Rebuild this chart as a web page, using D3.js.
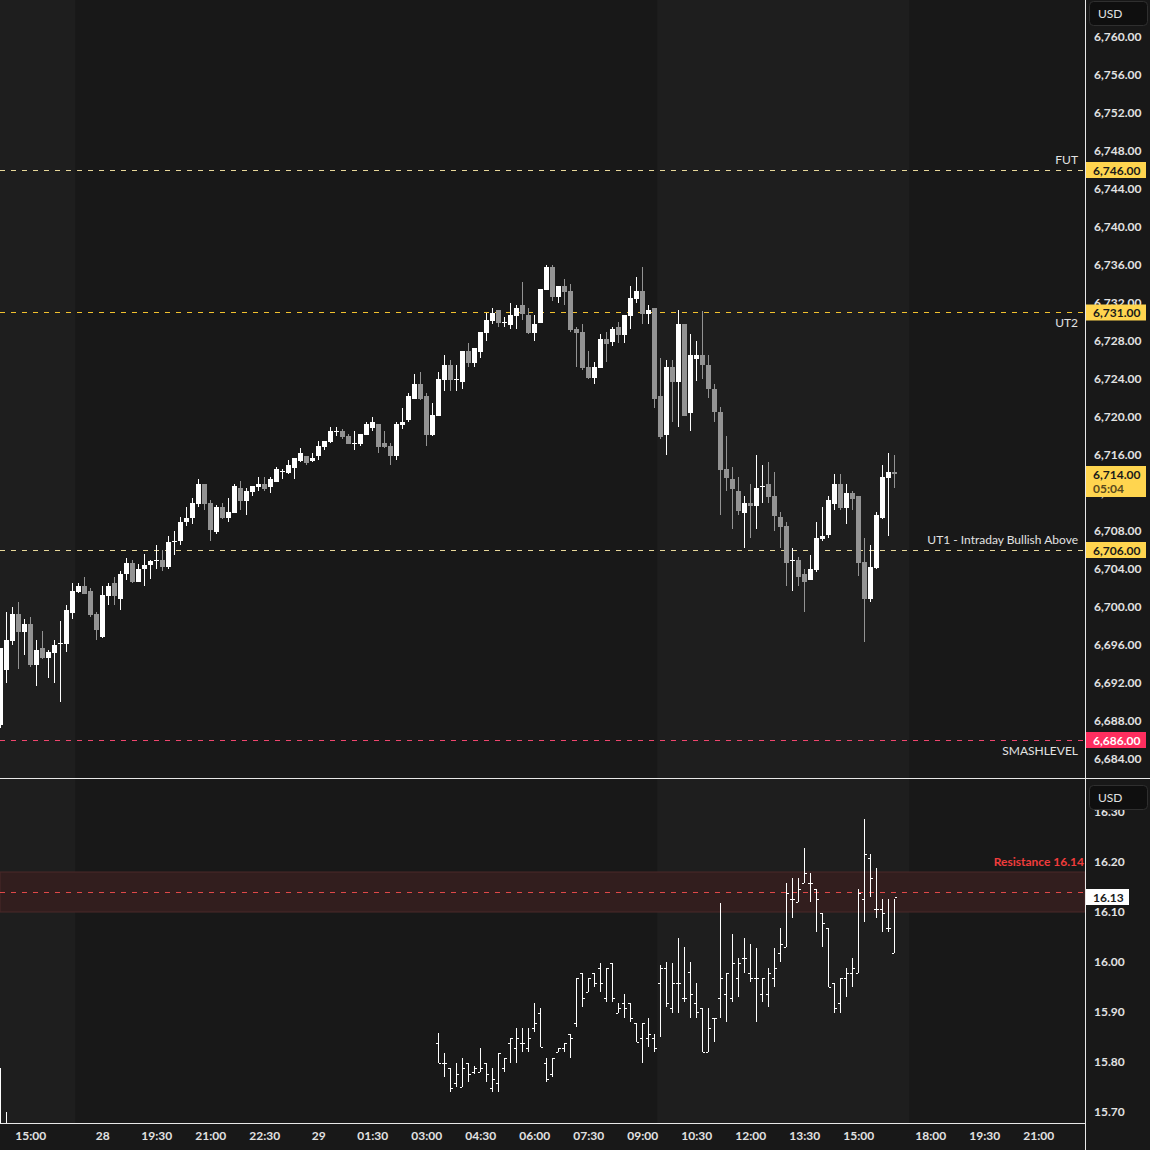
<!DOCTYPE html>
<html><head><meta charset="utf-8">
<script src="https://cdnjs.cloudflare.com/ajax/libs/d3/7.8.5/d3.min.js"></script>
<style>
html,body{margin:0;padding:0;background:#181818;}
svg{display:block;}
text{font-family:Lato,"Liberation Sans",Arial,sans-serif;}
</style>
</head><body>
<svg id="chart" width="1150" height="1150"></svg>
<script>
// ---------- DATA ----------
// ES 10-minute candles, bar index 0 = 14:10 (27th)
const esOpen = [6687.58,6693.37,6696.42,6699.26,6697.37,6698.21,6693.89,6695.68,6694.63,6695.16,
6696.16,6696.11,6699.37,6701.58,6702.21,6701.68,6699.26,6696.84,6701.16,6702.53,
6700.84,6703.5,6704.6,6702.6,6704.0,6704.4,6704.8,6705.0,6704.2,6706.8,
6707.0,6709.0,6709.40,6710.88,6712.95,6710.95,6707.89,6710.53,6709.37,6709.93,
6712.53,6711.16,6712.11,6712.63,6712.95,6712.63,6713.16,6714.32,6714.11,6714.63,
6715.37,6715.93,6715.37,6715.89,6716.84,6717.37,6718.53,6718.53,6718.00,6717.26,
6717.16,6718.11,6718.84,6719.26,6717.26,6716.95,6715.89,6719.16,6719.68,6721.89,
6723.47,6722.21,6718.11,6720.11,6723.89,6725.47,6724.0,6723.68,6726.95,6725.68,
6726.84,6728.84,6730.11,6731.26,6730.0,6729.68,6730.63,6731.79,6730.74,6728.84,
6729.89,6733.37,6735.79,6732.63,6733.79,6733.26,6729.26,6728.95,6725.26,6724.11,
6725.16,6728.21,6727.89,6729.47,6728.63,6730.63,6732.42,6733.26,6730.84,6731.47,
6722.21,6718.11,6725.26,6723.68,6729.79,6720.42,6726.11,6726.5,6725.5,6723.0,
6720.5,6714.53,6713.47,6712.21,6709.89,6710.95,6710.63,6712.70,6712.95,6711.68,
6709.47,6708.53,6704.95,6704.95,6703.47,6702.84,6703.89,6707.16,6707.58,6710.84,
6712.95,6710.42,6712.0,6711.68,6704.74,6700.84,6704.11,6709.37,6713.58,6714.21];
const esHigh = [6695.65,6699.47,6700.0,6700.53,6698.74,6698.95,6696.53,6697.47,6695.47,6696.53,
6698.53,6700.21,6702.53,6702.53,6703.2,6702.0,6699.47,6702.21,6702.53,6703.2,
6703.8,6705.2,6705.0,6704.5,6705.6,6705.0,6706.5,6706.0,6707.5,6708.0,
6709.5,6710.5,6711.44,6713.47,6712.95,6711.26,6710.70,6710.95,6711.47,6712.95,
6713.26,6712.49,6712.74,6713.68,6713.68,6713.68,6714.74,6714.53,6715.47,6715.68,
6716.74,6715.93,6716.21,6717.47,6717.47,6718.95,6718.95,6718.74,6718.21,6718.53,
6718.21,6719.47,6720.00,6719.26,6718.53,6717.26,6719.47,6720.95,6722.53,6724.53,
6724.74,6722.53,6721.47,6724.74,6726.53,6726.00,6725.47,6726.95,6727.79,6727.26,
6728.95,6730.95,6731.47,6731.26,6730.53,6732.0,6731.79,6734.21,6731.47,6730.74,
6733.47,6736.0,6736.0,6733.79,6734.53,6734.0,6729.47,6729.79,6726.95,6725.79,
6728.74,6728.95,6729.47,6730.0,6730.74,6733.79,6734.74,6735.79,6731.79,6731.47,
6726.21,6726.0,6726.0,6731.26,6729.79,6728.74,6728.0,6731.2,6726.5,6723.5,
6721.0,6718.0,6714.74,6713.68,6711.68,6712.95,6716.0,6714.95,6715.26,6714.21,
6710.0,6708.95,6706.21,6705.26,6704.0,6705.47,6708.95,6710.53,6711.68,6714.0,
6714.0,6712.95,6712.21,6711.68,6707.26,6706.53,6710.0,6714.95,6716.21,6716.0];
const esLow = [6687.26,6692.0,6696.0,6693.47,6694.95,6693.68,6691.68,6694.53,6692.53,6692.0,
6690.0,6695.26,6698.74,6701.47,6701.37,6698.95,6696.53,6696.74,6700.21,6700.21,
6699.68,6702.8,6702.5,6702.6,6702.2,6703.0,6704.0,6703.8,6704.0,6705.5,
6706.5,6708.5,6708.74,6710.56,6710.21,6706.98,6707.72,6709.26,6708.95,6709.93,
6710.21,6709.68,6711.68,6712.21,6712.25,6712.00,6713.16,6713.47,6714.00,6713.47,
6715.26,6714.95,6715.26,6715.47,6716.53,6717.26,6718.00,6717.68,6717.16,6716.53,
6716.95,6718.11,6718.53,6716.21,6716.74,6714.95,6715.47,6718.74,6719.47,6721.89,
6721.79,6716.95,6718.00,6720.11,6722.74,6722.74,6722.74,6722.95,6725.26,6725.26,
6726.21,6728.00,6729.79,6729.47,6729.47,6729.26,6729.26,6730.21,6728.74,6728.00,
6729.89,6733.37,6732.21,6732.0,6731.79,6728.95,6725.26,6724.95,6724.0,6723.47,
6725.16,6725.79,6727.47,6727.79,6727.79,6729.26,6732.0,6729.79,6729.79,6720.95,
6717.68,6716.0,6719.47,6718.95,6720.11,6718.53,6723.79,6724.0,6722.0,6719.5,
6709.68,6712.21,6708.21,6709.68,6706.21,6707.26,6708.21,6710.95,6710.95,6708.0,
6706.21,6702.21,6701.68,6702.21,6699.47,6702.84,6703.68,6706.95,6707.26,6710.21,
6710.21,6708.74,6710.21,6703.26,6696.3,6700.53,6704.0,6709.26,6707.47,6712.53];
const esClose = [6695.65,6696.53,6699.26,6697.37,6698.21,6693.89,6695.47,6694.63,6695.26,6696.0,
6696.16,6699.68,6701.68,6702.21,6701.37,6699.16,6697.58,6701.26,6702.21,6701.16,
6703.5,6704.6,6702.6,6704.0,6704.4,6704.8,6705.0,6704.2,6706.8,6707.0,
6709.0,6709.4,6710.91,6712.95,6710.88,6708.14,6710.53,6709.37,6710.00,6712.74,
6711.16,6712.21,6712.74,6712.95,6712.42,6713.47,6714.53,6714.32,6714.95,6715.68,
6716.21,6715.16,6715.68,6716.95,6717.47,6718.53,6718.53,6717.89,6717.16,6717.26,
6718.21,6719.26,6719.47,6716.84,6716.84,6715.89,6719.26,6719.47,6722.21,6723.47,
6721.89,6718.11,6720.21,6724.00,6725.47,6723.89,6724.0,6726.95,6725.68,6727.26,
6728.95,6730.21,6730.95,6729.89,6730.0,6730.74,6731.47,6730.84,6728.84,6729.79,
6733.47,6735.79,6732.63,6733.79,6733.16,6729.16,6728.84,6725.16,6724.11,6725.26,
6728.21,6727.68,6729.26,6728.63,6730.74,6732.53,6733.26,6730.84,6731.26,6721.89,
6717.89,6725.26,6723.68,6729.79,6720.11,6726.53,6726.53,6725.5,6723.0,6720.5,
6714.42,6713.58,6712.42,6710.11,6710.95,6710.63,6712.53,6712.70,6711.58,6709.58,
6708.42,6704.63,6704.95,6703.16,6702.63,6704.0,6707.26,6707.47,6711.26,6712.95,
6710.42,6712.0,6711.37,6704.63,6700.84,6704.21,6709.68,6713.68,6714.21,6714.0];

// VIX 10-minute OHLC bars (bar index on same time axis)
const vixIndex = [0,1].concat(d3.range(73,150));
const vixOpen = [15.60,15.60,
15.837,15.797,15.787,15.757,15.749,15.797,15.779,15.779,15.797,15.747,
15.757,15.787,15.837,15.827,15.837,15.827,15.867,15.897,15.797,15.777,
15.819,15.827,15.857,15.877,15.977,15.939,15.977,15.987,15.927,15.997,
15.899,15.917,15.917,15.877,15.847,15.847,15.847,15.957,15.987,15.907,
15.957,15.927,15.980,15.917,15.907,15.819,15.887,15.927,15.937,15.927,
15.967,16.007,15.977,15.967,15.937,15.937,15.967,16.017,16.029,16.127,
16.119,16.159,16.157,16.147,16.097,16.067,15.957,15.917,15.967,15.977,
15.979,16.127,16.207,16.107,16.107,16.067,16.019];
const vixHigh = [15.788,15.70,
15.858,15.817,15.787,15.797,15.807,15.797,15.791,15.827,15.797,15.787,
15.817,15.807,15.847,15.867,15.867,15.867,15.917,15.907,15.807,15.807,
15.827,15.837,15.857,15.967,15.977,15.967,15.977,15.997,15.987,15.997,
15.917,15.937,15.917,15.877,15.877,15.887,15.857,15.994,16.000,15.997,
16.048,16.030,16.000,15.957,15.907,15.907,15.887,16.117,15.977,16.057,
16.007,16.047,16.037,16.027,15.967,15.987,16.027,16.067,16.157,16.167,
16.167,16.227,16.177,16.147,16.097,16.067,15.957,15.967,15.987,16.007,
16.147,16.287,16.217,16.187,16.127,16.127,16.127];
const vixLow = [15.55,15.55,
15.797,15.769,15.739,15.749,15.749,15.759,15.777,15.779,15.759,15.739,
15.739,15.779,15.799,15.799,15.819,15.819,15.859,15.829,15.759,15.769,
15.819,15.819,15.809,15.869,15.909,15.939,15.949,15.939,15.919,15.919,
15.899,15.889,15.879,15.840,15.799,15.829,15.819,15.849,15.909,15.899,
15.899,15.919,15.889,15.889,15.819,15.819,15.839,15.889,15.879,15.919,
15.929,15.979,15.959,15.879,15.919,15.909,15.949,15.999,16.029,16.089,
16.119,16.159,16.119,16.059,16.029,15.949,15.899,15.899,15.929,15.949,
15.979,16.079,16.129,16.089,16.059,16.059,16.019];
const vixClose = [15.60,15.60,
15.799,15.797,15.747,15.777,15.787,15.777,15.787,15.787,15.777,15.767,
15.817,15.807,15.847,15.847,15.837,15.847,15.877,15.829,15.767,15.807,
15.827,15.837,15.847,15.967,15.927,15.967,15.957,15.957,15.987,15.927,
15.907,15.907,15.887,15.840,15.877,15.857,15.827,15.987,15.917,15.957,
15.957,15.927,15.937,15.900,15.819,15.867,15.887,15.967,15.977,15.997,
15.997,16.007,15.967,15.967,15.967,15.977,15.987,16.037,16.137,16.127,
16.147,16.177,16.157,16.127,16.077,15.949,15.907,15.967,15.977,15.987,
16.137,16.217,16.167,16.107,16.097,16.067,16.13];

// axis tick labels
const priceTicks = [6684,6688,6692,6696,6700,6704,6708,6712,6716,6720,6724,6728,6732,6736,6740,6744,6748,6752,6756,6760];
const vixTicks = [15.70,15.80,15.90,16.00,16.10,16.20,16.30];
const timeTickIndex = [5,17,26,35,44,53,62,71,80,89,98,107,116,125,134,143,155,164,173];
const timeTickLabel = ["15:00","28","19:30","21:00","22:30","29","01:30","03:00","04:30","06:00","07:30","09:00","10:30","12:00","13:30","15:00","18:00","19:30","21:00"];

// horizontal levels
const levelNames = ["FUT","UT2","UT1 - Intraday Bullish Above","SMASHLEVEL"];
const levelValues = [6746,6731,6706,6686];
const levelKind = ["yellow","yellow","yellow","red"];
const levelLabelAbove = [true,false,true,false];
const lastPrice = 6714.00, countdown = "05:04";
const resistanceLabel = "Resistance 16.14", resistanceValue = 16.14, resistanceHalfWidth = 0.04;
const lastVix = 16.13;
// regular-session shading (bar index ranges)
const sessionRanges = [[-3,12],[110,151]];

// ---------- LAYOUT ----------
const W = 1150, H = 1150, plotR = 1085;
const mainTop = 0, mainBot = 778, subTop = 779, subBot = 1123;
const BG = "#181818", BG_SESSION = "#1e1e1e";
const UP = "#ffffff", DOWN = "#939393";
const YEL = "#ffd54f", RED = "#ff2e5f";
const TXT = "#e2e2e2";

const svg = d3.select("#chart");
const x = d3.scaleLinear().domain([0, 180]).range([0.3, 1080.3]);
const yMain = d3.scaleLinear().domain([6684, 6760]).range([759, 37]);
const ySub = d3.scaleLinear().domain([15.70, 16.20]).range([1112, 862]);

svg.append("rect").attr("width", W).attr("height", H).attr("fill", BG);

const defs = svg.append("defs");
defs.append("clipPath").attr("id","clipMain").append("rect").attr("x",0).attr("y",mainTop).attr("width",plotR).attr("height",mainBot-mainTop);
defs.append("clipPath").attr("id","clipSub").append("rect").attr("x",0).attr("y",subTop).attr("width",plotR).attr("height",subBot-subTop);

// session shading
[["clipMain",mainTop,mainBot],["clipSub",subTop,subBot]].forEach(([clip,t,b]) => {
  svg.append("g").attr("clip-path",`url(#${clip})`).selectAll("rect").data(sessionRanges).join("rect")
    .attr("x", d => x(d[0]) - 3).attr("width", d => x(d[1]) - x(d[0]) + 6)
    .attr("y", t).attr("height", b - t).attr("fill", BG_SESSION);
});

// ---------- MAIN PANE ----------
const gMain = svg.append("g").attr("clip-path","url(#clipMain)");

// level lines
levelValues.forEach((v,i) => {
  const yy = Math.floor(yMain(v)) + 0.5;
  gMain.append("line").attr("x1",0).attr("x2",plotR).attr("y1",yy).attr("y2",yy)
    .attr("stroke", levelKind[i]==="red" ? "#f0466e" : (i===1 ? "#f2c12e" : "#e8d89a"))
    .attr("stroke-width",1).attr("stroke-dasharray","5,6");
  gMain.append("text").attr("x",1078).attr("y", yy + (levelLabelAbove[i] ? -11 : 10))
    .attr("text-anchor","end").attr("dominant-baseline","central")
    .attr("font-size",12).attr("fill",TXT).text(levelNames[i]);
});

const candles = esOpen.map((o,i) => ({i, o, h: esHigh[i], l: esLow[i], c: esClose[i]}));
const cg = gMain.selectAll("g.candle").data(candles).join("g").attr("class","candle")
  .attr("fill", d => d.c >= d.o ? UP : DOWN);
cg.append("rect")
  .attr("x", d => Math.round(x(d.i)))
  .attr("width", 1)
  .attr("y", d => Math.round(yMain(d.h)))
  .attr("height", d => Math.max(1, Math.round(yMain(d.l)) - Math.round(yMain(d.h))));
cg.append("rect")
  .attr("x", d => Math.round(x(d.i)) - 2)
  .attr("width", 5)
  .attr("y", d => Math.round(yMain(Math.max(d.o,d.c))))
  .attr("height", d => Math.max(1, Math.round(yMain(Math.min(d.o,d.c))) - Math.round(yMain(Math.max(d.o,d.c)))));

// ---------- SUB PANE ----------
const gSub = svg.append("g").attr("clip-path","url(#clipSub)");
const rTop = ySub(resistanceValue + resistanceHalfWidth), rBot = ySub(resistanceValue - resistanceHalfWidth);
gSub.append("rect").attr("x",0).attr("width",plotR).attr("y",rTop).attr("height",rBot-rTop)
  .attr("fill","#321e1e").attr("stroke","#4a2828").attr("stroke-width",1);
gSub.append("line").attr("x1",0).attr("x2",plotR)
  .attr("y1",Math.round(ySub(resistanceValue))+0.5).attr("y2",Math.round(ySub(resistanceValue))+0.5)
  .attr("stroke","#e04848").attr("stroke-dasharray","5,6");
gSub.append("text").attr("x",1084).attr("y",861).attr("text-anchor","end").attr("dominant-baseline","central")
  .attr("font-size",12).attr("font-weight","bold").attr("fill","#f03c3c").text(resistanceLabel);

const bars = vixIndex.map((k,j) => ({k, o: vixOpen[j], h: vixHigh[j], l: vixLow[j], c: vixClose[j]}));
const bg = gSub.selectAll("g.bar").data(bars).join("g").attr("fill","#ffffff");
bg.append("rect").attr("x", d => Math.round(x(d.k))).attr("width",1)
  .attr("y", d => Math.round(ySub(d.h))).attr("height", d => Math.max(1, Math.round(ySub(d.l)) - Math.round(ySub(d.h))));
bg.append("rect").attr("x", d => Math.round(x(d.k)) - 2).attr("width",2)
  .attr("y", d => Math.round(ySub(d.o))).attr("height",1);
bg.append("rect").attr("x", d => Math.round(x(d.k)) + 1).attr("width",2)
  .attr("y", d => Math.round(ySub(d.c))).attr("height",1);

// ---------- FRAME LINES ----------
svg.append("line").attr("x1",plotR+0.5).attr("x2",plotR+0.5).attr("y1",0).attr("y2",H).attr("stroke","#e8e8e8");
svg.append("line").attr("x1",0).attr("x2",W).attr("y1",mainBot+0.5).attr("y2",mainBot+0.5).attr("stroke","#e8e8e8");
svg.append("line").attr("x1",0).attr("x2",plotR).attr("y1",subBot+0.5).attr("y2",subBot+0.5).attr("stroke","#e8e8e8");

// ---------- AXES ----------
const axMain = svg.append("g").attr("transform",`translate(${plotR+1},0)`)
  .call(d3.axisRight(yMain).tickValues(priceTicks).tickFormat(d3.format(",.2f")).tickSize(0).tickPadding(8));
const axSub = svg.append("g").attr("transform",`translate(${plotR+1},0)`)
  .call(d3.axisRight(ySub).tickValues(vixTicks).tickFormat(d3.format(".2f")).tickSize(0).tickPadding(8));
const axTime = svg.append("g").attr("transform",`translate(0,${subBot+1})`)
  .call(d3.axisBottom(x).tickValues(timeTickIndex).tickFormat((d,i) => timeTickLabel[i]).tickSize(0).tickPadding(7));
[axMain, axSub, axTime].forEach(a => {
  a.select(".domain").remove();
  a.selectAll("text").attr("fill",TXT).attr("font-size",12).attr("font-family","Lato, 'Liberation Sans', Arial, sans-serif").attr("font-weight","bold");
});

// ---------- PRICE LABEL BOXES ----------
function priceBox(v, scale, bgc, fg, fmt, w, extra) {
  const yy = scale(v);
  const h = extra ? 31 : 16;
  const g = svg.append("g");
  g.append("rect").attr("x",plotR+1).attr("y", yy - 8).attr("width", w).attr("height", h).attr("fill", bgc);
  g.append("text").attr("x",plotR+8).attr("y",yy).attr("dominant-baseline","central")
    .attr("font-size",12).attr("font-weight","bold").attr("fill",fg).text(fmt(v));
  if (extra) g.append("text").attr("x",plotR+8).attr("y",yy+14).attr("dominant-baseline","central")
    .attr("font-size",12).attr("font-weight","bold").attr("fill","#5a4a1c").text(extra);
}
levelValues.forEach((v,i) => priceBox(v, yMain, levelKind[i]==="red" ? RED : YEL, levelKind[i]==="red" ? "#ffffff" : "#1a1a1a", d3.format(",.2f"), 60));
priceBox(lastPrice, yMain, YEL, "#1a1a1a", d3.format(",.2f"), 60, countdown);
priceBox(lastVix, ySub, "#ffffff", "#1a1a1a", d3.format(".2f"), 43);

// USD boxes
[[1, 24],[785, 24]].forEach(([t,h]) => {
  svg.append("rect").attr("x",1089.5).attr("y",t+0.5).attr("width",58).attr("height",h).attr("rx",4)
    .attr("fill","#0f0f0f").attr("stroke","#2f2f2f");
  svg.append("text").attr("x",1098).attr("y",t+h/2+0.5).attr("dominant-baseline","central")
    .attr("font-size",12).attr("fill",TXT).text("USD");
});
</script>
</body></html>
